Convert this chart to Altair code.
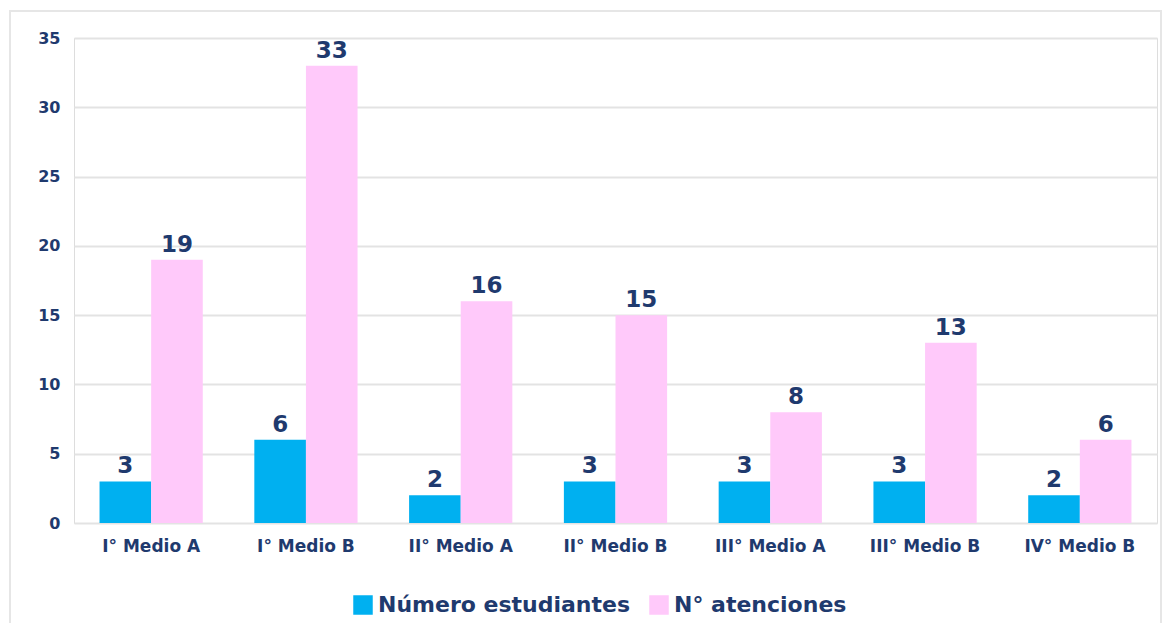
import altair as alt
import pandas as pd

categories = ["I° Medio A", "I° Medio B", "II° Medio A", "II° Medio B", "III° Medio A", "III° Medio B", "IV° Medio B"]
estudiantes = [3, 6, 2, 3, 3, 3, 2]
atenciones = [19, 33, 16, 15, 8, 13, 6]
series_names = ["Número  estudiantes", "N° atenciones"]
colors = ["#00B0F0", "#FFC9FA"]
y_ticks = [0, 5, 10, 15, 20, 25, 30, 35]

rows = []
for c, e, a in zip(categories, estudiantes, atenciones):
    rows.append({"cat": c, "serie": series_names[0], "val": e})
    rows.append({"cat": c, "serie": series_names[1], "val": a})
df = pd.DataFrame(rows)

navy = "#1F3A6E"
FONT = "DejaVu Sans"

x_enc = alt.X("cat:N", sort=categories, title=None,
              scale=alt.Scale(paddingInner=0.333, paddingOuter=0.165, round=False),
              axis=alt.Axis(labelAngle=0, labelFontSize=17, labelFont=FONT, labelFontWeight="bold",
                            labelColor=navy, domain=False, ticks=False, labelPadding=15))
y_enc = alt.Y("val:Q", title=None,
              scale=alt.Scale(domain=[0, 35], nice=False),
              axis=alt.Axis(values=y_ticks, labelFontSize=16, labelFont=FONT, labelFontWeight="bold",
                            labelColor=navy, domain=False, ticks=False, labelPadding=14,
                            gridColor="#E3E3E3", gridWidth=2))
color_enc = alt.Color("serie:N", sort=series_names,
                      scale=alt.Scale(domain=series_names, range=colors),
                      legend=alt.Legend(title=None, orient="none", legendX=278, legendY=556,
                                        direction="horizontal", symbolType="square", symbolSize=380,
                                        symbolStrokeWidth=0, labelFontSize=22, labelFont=FONT,
                                        labelFontWeight="bold", labelColor=navy, columnPadding=10,
                                        labelOffset=4, labelLimit=0))
xoff = alt.XOffset("serie:N", sort=series_names)

base = alt.Chart(df)

frame = alt.Chart(df).mark_rect(fill=None, stroke="#E6E6E6", strokeWidth=2).encode(
    x=alt.value(-64), x2=alt.value(1087), y=alt.value(-27), y2=alt.value(620)
)

bars = base.mark_bar().encode(x=x_enc, y=y_enc, color=color_enc, xOffset=xoff)

labels = base.mark_text(dy=-15, fontSize=23, font=FONT, fontWeight="bold", color=navy).encode(
    x=alt.X("cat:N", sort=categories), y="val:Q", xOffset=xoff, text="val:Q"
)

chart = alt.layer(frame, bars, labels).properties(
    width=1083, height=485,
    autosize=alt.AutoSizeParams(type="none"),
    padding={"left": 66, "top": 30, "right": 5, "bottom": 100},
).configure_view(stroke=None).configure(background="white")

chart.save("out.html", embed_options={"renderer": "svg", "actions": False})
